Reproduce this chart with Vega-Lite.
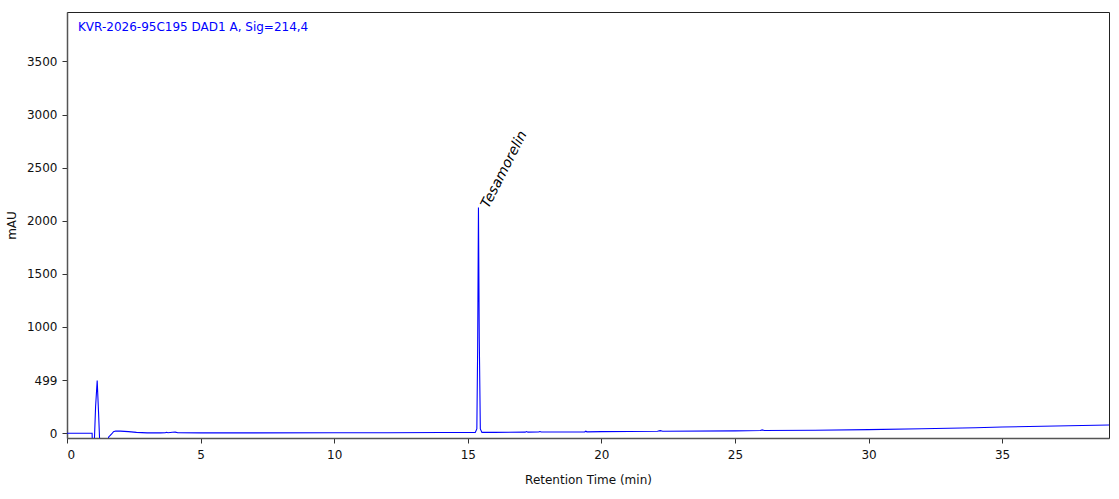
{
  "$schema": "https://vega.github.io/schema/vega-lite/v6.json",
  "autosize": {"type": "none"},
  "padding": {"left": 67, "top": 12, "right": 10, "bottom": 61},
  "width": 1042,
  "height": 426,
  "background": "white",
  "title": {
    "text": "KVR-2026-95C195 DAD1 A, Sig=214,4",
    "anchor": "start",
    "frame": "group",
    "orient": "top",
    "offset": -22,
    "dx": 11,
    "color": "#0000ff",
    "font": "DejaVu Sans",
    "fontSize": 12,
    "fontWeight": "normal"
  },
  "datasets": {
    "trace": [
      {"t": 0, "mau": 0},
      {"t": 0.5, "mau": 0},
      {"t": 0.94, "mau": 0},
      {"t": 0.95, "mau": -120},
      {"t": 1.02, "mau": -100},
      {"t": 1.07, "mau": 250},
      {"t": 1.13, "mau": 495},
      {"t": 1.18, "mau": 200},
      {"t": 1.23, "mau": -120},
      {"t": 1.5, "mau": -120},
      {"t": 1.56, "mau": -35},
      {"t": 1.62, "mau": -20},
      {"t": 1.68, "mau": -5},
      {"t": 1.74, "mau": 14},
      {"t": 1.82, "mau": 20},
      {"t": 2.0, "mau": 20},
      {"t": 2.3, "mau": 15},
      {"t": 2.6, "mau": 8},
      {"t": 3.0, "mau": 3},
      {"t": 3.5, "mau": 3},
      {"t": 3.68, "mau": 5},
      {"t": 3.72, "mau": 9},
      {"t": 3.78, "mau": 4},
      {"t": 3.95, "mau": 9},
      {"t": 4.05, "mau": 10},
      {"t": 4.15, "mau": 4},
      {"t": 5, "mau": 3},
      {"t": 7, "mau": 3},
      {"t": 10, "mau": 4},
      {"t": 12, "mau": 5},
      {"t": 14, "mau": 7},
      {"t": 15.28, "mau": 8},
      {"t": 15.34, "mau": 40},
      {"t": 15.37, "mau": 800},
      {"t": 15.40, "mau": 2125},
      {"t": 15.43, "mau": 900},
      {"t": 15.47, "mau": 40},
      {"t": 15.53, "mau": 8},
      {"t": 16, "mau": 8},
      {"t": 17.15, "mau": 10},
      {"t": 17.2, "mau": 16},
      {"t": 17.25, "mau": 10},
      {"t": 17.65, "mau": 11},
      {"t": 17.7, "mau": 16},
      {"t": 17.75, "mau": 11},
      {"t": 19.38, "mau": 13},
      {"t": 19.42, "mau": 19},
      {"t": 19.46, "mau": 13},
      {"t": 20, "mau": 15},
      {"t": 22.1, "mau": 19},
      {"t": 22.2, "mau": 24},
      {"t": 22.3, "mau": 19},
      {"t": 25, "mau": 22},
      {"t": 25.95, "mau": 25},
      {"t": 26.02, "mau": 31},
      {"t": 26.1, "mau": 25},
      {"t": 28, "mau": 28},
      {"t": 30, "mau": 34},
      {"t": 32, "mau": 42},
      {"t": 34, "mau": 52},
      {"t": 35, "mau": 58},
      {"t": 37, "mau": 68},
      {"t": 39, "mau": 78}
    ],
    "peaks": [
      {"t": 15.78, "mau": 2110, "name": "Tesamorelin"}
    ]
  },
  "layer": [
    {
      "data": {"name": "trace"},
      "mark": {"type": "line", "color": "#0000ff", "strokeWidth": 1.1, "clip": true, "interpolate": "linear"},
      "encoding": {
        "x": {
          "field": "t",
          "type": "quantitative",
          "scale": {"domain": [0, 39], "nice": false, "zero": false},
          "axis": {
            "title": "Retention Time (min)",
            "values": [0, 5, 10, 15, 20, 25, 30, 35],
            "format": "d",
            "grid": false,
            "tickSize": 5,
            "labelPadding": 6,
            "titlePadding": 14
          }
        },
        "y": {
          "field": "mau",
          "type": "quantitative",
          "scale": {"domain": [-45, 3965], "nice": false, "zero": false},
          "axis": {
            "title": "mAU",
            "values": [0, 499, 1000, 1500, 2000, 2500, 3000, 3500],
            "format": "d",
            "grid": false,
            "tickSize": 5,
            "labelPadding": 5,
            "titlePadding": 8
          }
        }
      }
    },
    {
      "data": {"name": "peaks"},
      "mark": {"type": "text", "angle": -63, "align": "left", "baseline": "alphabetic", "fontSize": 14, "fontStyle": "italic", "font": "DejaVu Sans", "color": "black"},
      "encoding": {
        "x": {"field": "t", "type": "quantitative"},
        "y": {"field": "mau", "type": "quantitative"},
        "text": {"field": "name"}
      }
    }
  ],
  "config": {
    "view": {"stroke": "#222", "strokeWidth": 1},
    "font": "DejaVu Sans",
    "axis": {
      "domainColor": "#555",
      "domainWidth": 1.5,
      "tickColor": "#333",
      "labelColor": "#111",
      "titleColor": "#111",
      "labelFont": "DejaVu Sans",
      "titleFont": "DejaVu Sans",
      "labelFontSize": 12,
      "titleFontSize": 12,
      "titleFontWeight": "normal"
    }
  }
}
